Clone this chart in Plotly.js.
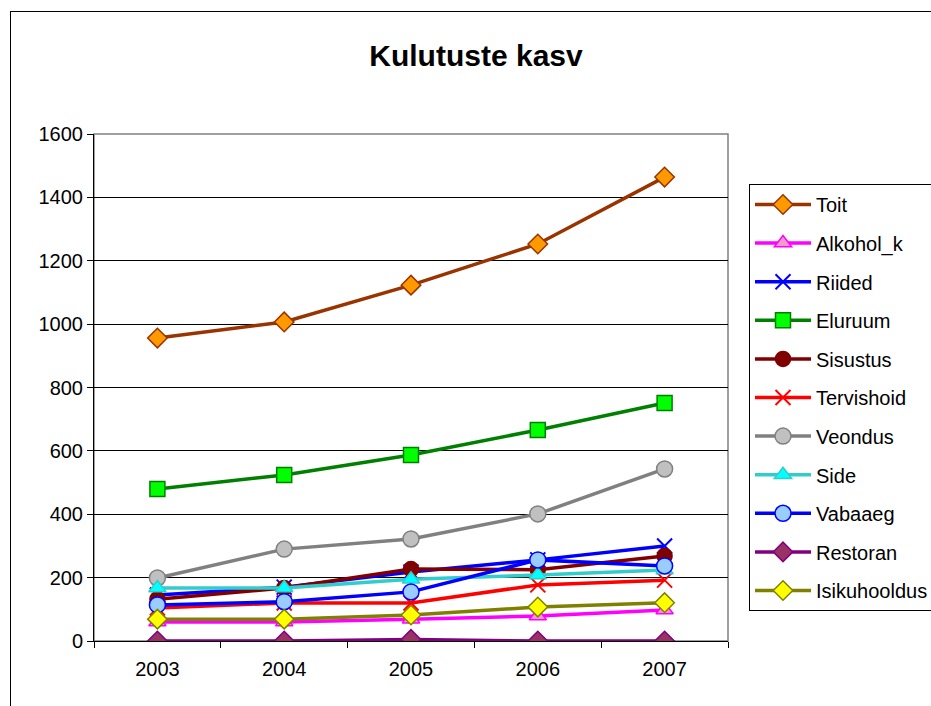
<!DOCTYPE html>
<html>
<head>
<meta charset="utf-8">
<script src="https://cdn.plot.ly/plotly-3.0.1.min.js"></script>
<style>
html,body{margin:0;padding:0;background:#fff;overflow:hidden;}
#chart{width:931px;height:706px;position:absolute;left:0;top:0;}
#frame{position:absolute;left:10px;top:11px;width:1000px;height:800px;border:1px solid #000;pointer-events:none;}
</style>
</head>
<body>
<div id="chart"></div>
<div id="frame"></div>
<script>
const years = ["2003", "2004", "2005", "2006", "2007"];
const seriesNames = ["Toit", "Alkohol_k", "Riided", "Eluruum", "Sisustus", "Tervishoid", "Veondus", "Side", "Vabaaeg", "Restoran", "Isikuhooldus"];
const toit = [956, 1007, 1123, 1253, 1464];
const alkohol_k = [60, 60, 69, 79, 98];
const riided = [145, 170, 218, 256, 300];
const eluruum = [480, 524, 587, 666, 751];
const sisustus = [132, 167, 227, 225, 268];
const tervishoid = [104, 120, 120, 177, 192];
const veondus = [199, 290, 322, 401, 543];
const side = [167, 167, 195, 208, 224];
const vabaaeg = [114, 124, 155, 256, 237];
const restoran = [0, 0, 5, 0, 0];
const isikuhooldus = [69, 69, 82, 107, 121];
const yTicks = [0, 200, 400, 600, 800, 1000, 1200, 1400, 1600];

const values = [toit, alkohol_k, riided, eluruum, sisustus, tervishoid, veondus, side, vabaaeg, restoran, isikuhooldus];
const styles = [
  {line:"#993300", sym:"diamond", fill:"#FF9900", mline:"#993300", size:15},
  {line:"#FF00FF", sym:"triangle-up", fill:"#FF99CC", mline:"#FF00FF", size:15},
  {line:"#0000FF", sym:"x-thin", fill:"#0000FF", mline:"#0000FF", size:15},
  {line:"#008000", sym:"square", fill:"#00FF00", mline:"#008000", size:15},
  {line:"#800000", sym:"circle", fill:"#800000", mline:"#800000", size:15},
  {line:"#FF0000", sym:"x-thin", fill:"#FF0000", mline:"#FF0000", size:15},
  {line:"#808080", sym:"circle", fill:"#C0C0C0", mline:"#808080", size:16},
  {line:"#33CCCC", sym:"triangle-up", fill:"#00FFFF", mline:"#33CCCC", size:15},
  {line:"#0000FF", sym:"circle", fill:"#99CCFF", mline:"#0000FF", size:16},
  {line:"#800080", sym:"diamond", fill:"#993366", mline:"#800080", size:15},
  {line:"#808000", sym:"diamond", fill:"#FFFF00", mline:"#808000", size:15}
];

const traces = seriesNames.map((n, i) => ({
  type: "scatter",
  mode: "lines+markers",
  name: n,
  legendgroup: "g" + i,
  x: years,
  y: values[i],
  line: {color: styles[i].line, width: 3.5},
  marker: {
    symbol: styles[i].sym,
    size: styles[i].size,
    color: styles[i].fill,
    line: {color: styles[i].mline, width: styles[i].sym === "x-thin" ? 2 : 1.5}
  }
}));

const layout = {
  width: 931,
  height: 706,
  margin: {l: 94, r: 203, t: 134, b: 65, autoexpand: false},
  paper_bgcolor: "#ffffff",
  plot_bgcolor: "#ffffff",
  font: {family: "Liberation Sans, Arial, sans-serif", size: 20, color: "#000"},
  title: {
    text: "<b>Kulutuste kasv</b>",
    font: {family: "Liberation Sans, Arial, sans-serif", size: 30, color: "#000"},
    xref: "container", x: 476 / 931, xanchor: "center",
    yref: "container", y: 1 - 55 / 706, yanchor: "middle"
  },
  xaxis: {
    type: "category",
    range: [-0.5, 4.5],
    tickson: "boundaries",
    ticks: "outside",
    ticklen: 6,
    tickcolor: "#000",
    showline: true,
    linecolor: "#000",
    linewidth: 1,
    showgrid: false,
    tickfont: {size: 20},
    ticklabelstandoff: 10,
    automargin: false,
    fixedrange: true
  },
  yaxis: {
    range: [0, 1600],
    tickvals: yTicks,
    ticks: "outside",
    ticklen: 6,
    tickcolor: "#000",
    showline: true,
    linecolor: "#000",
    linewidth: 1,
    showgrid: true,
    gridcolor: "#000",
    gridwidth: 1,
    zeroline: false,
    tickfont: {size: 20},
    automargin: false,
    fixedrange: true
  },
  shapes: [{
    type: "rect", xref: "paper", yref: "paper", x0: 0, x1: 1, y0: 0, y1: 1,
    line: {color: "#808080", width: 1.5}, layer: "below"
  }],
  legend: {
    x: (749 - 94) / 634, xanchor: "left",
    y: (641 - 184) / 507, yanchor: "top",
    bordercolor: "#000", borderwidth: 1,
    bgcolor: "#fff",
    font: {size: 20},
    itemwidth: 56,
    tracegroupgap: 9.6,
    traceorder: "grouped"
  },
  showlegend: true
};

Plotly.newPlot("chart", traces, layout, {displayModeBar: false, staticPlot: true});
</script>
</body>
</html>
